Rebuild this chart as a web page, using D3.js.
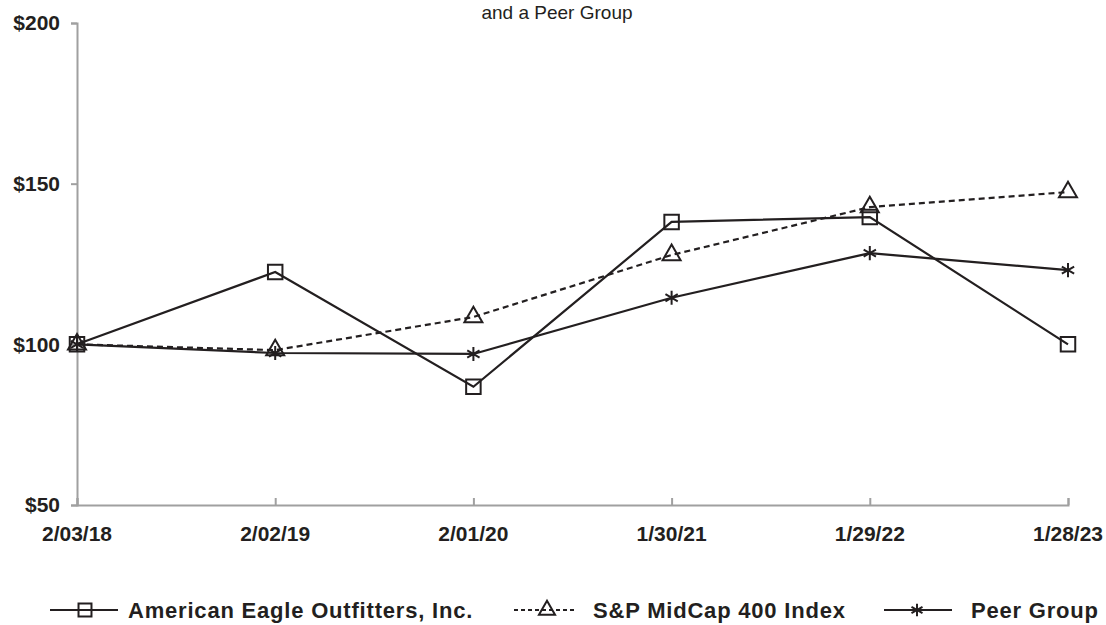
<!DOCTYPE html>
<html>
<head>
<meta charset="utf-8">
<script src="https://cdn.jsdelivr.net/npm/d3@7"></script>
<style>
  body { margin: 0; background: #fff; }
  text { font-family: "Liberation Sans", Arial, Helvetica, sans-serif; fill: #231f20; }
</style>
</head>
<body>
<div id="chart"></div>
<script>
// data
var dates = ["2/03/18", "2/02/19", "2/01/20", "1/30/21", "1/29/22", "1/28/23"]
var aeo = [100, 122.5, 86.8, 138.1, 139.6, 100]
var midcap = [100, 98.2, 108.5, 127.8, 142.7, 147.4]
var peer = [100, 97.3, 97.0, 114.5, 128.4, 123.1]
var yTicks = [50, 100, 150, 200]
var seriesNames = ["American Eagle Outfitters, Inc.", "S&P MidCap 400 Index", "Peer Group"]

var width = 1106, height = 625
var ink = "#231f20"
var axisGrey = "#a0a0a0"

var svg = d3.select("#chart").append("svg")
    .attr("width", width)
    .attr("height", height)

var x = d3.scalePoint().domain(dates).range([77, 1068])
var y = d3.scaleLinear().domain([50, 200]).range([505, 23])

// star marker: vertical stroke plus two diagonals
var symbolStar = {
    draw: function(ctx, size) {
        var r = Math.sqrt(size) / 2
        ctx.moveTo(0, -r); ctx.lineTo(0, r)
        ctx.moveTo(-r * 0.87, -r * 0.5); ctx.lineTo(r * 0.87, r * 0.5)
        ctx.moveTo(-r * 0.87, r * 0.5); ctx.lineTo(r * 0.87, -r * 0.5)
    }
}

var series = [
    {name: seriesNames[0], values: aeo, dash: null, symbol: d3.symbolSquare, size: 210},
    {name: seriesNames[1], values: midcap, dash: "6,4", symbol: d3.symbolTriangle, size: 140},
    {name: seriesNames[2], values: peer, dash: null, symbol: symbolStar, size: 200}
]

// title (only its last line shows at the top edge)
svg.append("text")
    .attr("x", 557)
    .attr("y", 19)
    .attr("text-anchor", "middle")
    .style("font-size", "19px")
    .text("and a Peer Group")

// axes
var yAxis = d3.axisLeft(y).tickValues(yTicks).tickSize(6).tickFormat(function(d){ return "$" + d })
var gy = svg.append("g").attr("transform", "translate(77,0)").call(yAxis)
var xAxis = d3.axisBottom(x).tickSize(-7).tickFormat("")
var gx = svg.append("g").attr("transform", "translate(0,505)").call(xAxis)

gy.select(".domain").attr("stroke", axisGrey).attr("stroke-width", 2)
gx.select(".domain").attr("stroke", axisGrey).attr("stroke-width", 2)
svg.selectAll(".tick line").attr("stroke", axisGrey).attr("stroke-width", 2)

gy.selectAll(".tick text")
    .attr("x", -17)
    .attr("fill", ink)
    .style("font-family", "Liberation Sans, Arial, sans-serif")
    .style("font-size", "21px")
    .style("font-weight", "bold")

// x labels below the axis
svg.append("g").selectAll("text")
    .data(dates)
    .enter()
    .append("text")
    .attr("x", function(d){ return x(d) })
    .attr("y", 541)
    .attr("text-anchor", "middle")
    .style("font-size", "21px")
    .style("font-weight", "bold")
    .text(function(d){ return d })

// lines
var line = d3.line()
    .x(function(d, i){ return x(dates[i]) })
    .y(function(d){ return y(d) })

series.forEach(function(s){
    svg.append("path")
        .datum(s.values)
        .attr("d", line)
        .attr("fill", "none")
        .attr("stroke", ink)
        .attr("stroke-width", 2.2)
        .attr("stroke-dasharray", s.dash)
})

series.forEach(function(s){
    svg.append("g").selectAll("path")
        .data(s.values)
        .enter()
        .append("path")
        .attr("d", d3.symbol().type(s.symbol).size(s.size))
        .attr("transform", function(d, i){ return "translate(" + x(dates[i]) + "," + y(d) + ")" })
        .attr("fill", "none")
        .attr("stroke", ink)
        .attr("stroke-width", 2)
})

// legend
var legendItems = [
    {x0: 50, x1: 118, mx: 85, tx: 128},
    {x0: 514, x1: 577, mx: 547, tx: 593},
    {x0: 884, x1: 952, mx: 917, tx: 971}
]
var legendY = 610
var legend = svg.append("g")
legendItems.forEach(function(p, i){
    var s = series[i]
    legend.append("line")
        .attr("x1", p.x0).attr("x2", p.x1)
        .attr("y1", legendY).attr("y2", legendY)
        .attr("stroke", ink)
        .attr("stroke-width", 2)
        .attr("stroke-dasharray", s.dash === null ? null : "4,3")
    legend.append("path")
        .attr("d", d3.symbol().type(s.symbol).size(s.size * 0.8))
        .attr("transform", "translate(" + p.mx + "," + legendY + ")")
        .attr("fill", "none")
        .attr("stroke", ink)
        .attr("stroke-width", 2)
    legend.append("text")
        .attr("x", p.tx)
        .attr("y", legendY + 8)
        .style("font-size", "22px")
        .style("font-weight", "bold")
        .style("letter-spacing", "0.8px")
        .text(s.name)
})
</script>
</body>
</html>
